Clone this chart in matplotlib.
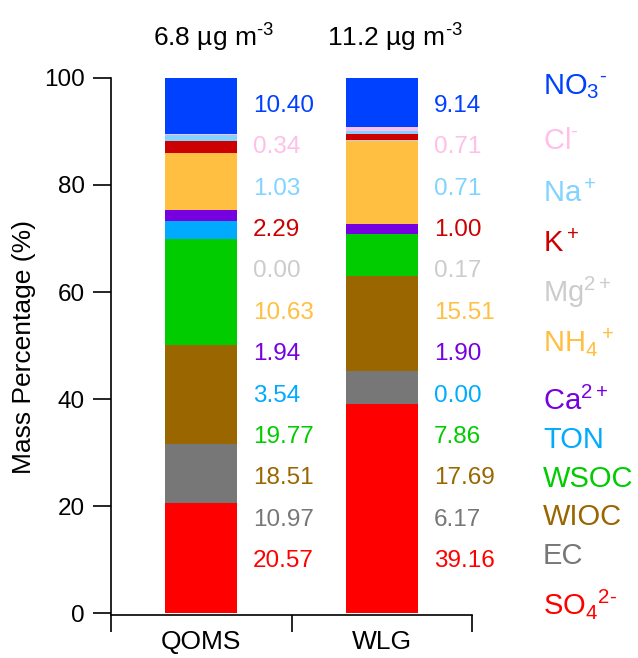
import matplotlib
matplotlib.use("Agg")
import matplotlib.pyplot as plt
import numpy as np

plt.rcParams["font.family"] = ["Liberation Sans", "DejaVu Sans"]
plt.rcParams["mathtext.fontset"] = "custom"
plt.rcParams["mathtext.rm"] = "Liberation Sans"
plt.rcParams["mathtext.it"] = "Liberation Sans"
plt.rcParams["mathtext.bf"] = "Liberation Sans:bold"

HY = "\u2010"  # short hyphen, as in the original superscripts

sites = ["QOMS", "WLG"]
totals = ["6.8 µg m$^{" + HY + "3}$", "11.2 µg m$^{" + HY + "3}$"]

# stacked bottom -> top
species = ["SO$_4{}^{2" + HY + "}$", "EC", "WIOC", "WSOC", "TON", "Ca$^{2+}$",
           "NH$_4{}^+$", "Mg$^{2+}$", "K$^+$", "Na$^+$", "Cl$^{" + HY + "}$",
           "NO$_3{}^{" + HY + "}$"]
qoms = [20.57, 10.97, 18.51, 19.77, 3.54, 1.94, 10.63, 0.00, 2.29, 1.03, 0.34, 10.40]
wlg = [39.16, 6.17, 17.69, 7.86, 0.00, 1.90, 15.51, 0.17, 1.00, 0.71, 0.71, 9.14]
colors = ["#ff0000", "#777777", "#996600", "#00cc00", "#00aaff", "#7700e0",
          "#ffbf40", "#cccccc", "#cc0000", "#80d4ff", "#ffbfe8", "#0040ff"]

fig = plt.figure(figsize=(6.38, 6.58), dpi=100)
ax = fig.add_axes([0.174, 0.0653, 0.566, 0.8162])

x = np.arange(len(sites))
bottom = np.zeros(len(sites))
for i, c in enumerate(colors):
    vals = np.array([qoms[i], wlg[i]])
    ax.bar(x, vals, 0.4, bottom=bottom, color=c, linewidth=0)
    bottom += vals

# value labels, top -> bottom in the same order as the legend
label_y = np.linspace(94.8, 9.7, len(species))
for j, vals in enumerate([qoms, wlg]):
    for k, i in enumerate(range(len(species) - 1, -1, -1)):
        ax.text(j + 0.287, label_y[k], f"{vals[i]:.2f}", color=colors[i],
                fontsize=17.5, ha="left", va="center")

# species names on the right (baselines in pixels from the top)
legend_y = [(613 - p) / 5.35 for p in [94, 149, 202, 252, 302, 352, 410, 448, 487, 525, 564, 614]]
for k, i in enumerate(range(len(species) - 1, -1, -1)):
    ax.text(1.893, legend_y[k], species[i], color=colors[i], fontsize=21,
            ha="left", va="baseline", clip_on=False)

for j, t in enumerate(totals):
    ax.text(j + 0.07, 105.8, t, fontsize=19, ha="center", va="baseline", clip_on=False)

ax.set_xlim(-0.5, 1.5)
ax.set_ylim(-0.37, 100)
ax.spines["top"].set_visible(False)
ax.spines["right"].set_visible(False)
ax.spines["left"].set_linewidth(1.2)
ax.spines["bottom"].set_linewidth(1.2)

ax.set_yticks(np.arange(0, 101, 20))
ax.tick_params(axis="y", direction="out", length=13, width=1.2, labelsize=17.5, pad=6)
ax.set_xticks([-0.5, 0.5, 1.5])
ax.set_xticklabels([])
ax.tick_params(axis="x", which="major", direction="out", length=12, width=1.2)
ax.set_xticks(x, minor=True)
ax.set_xticklabels(sites, minor=True)
ax.tick_params(axis="x", which="minor", length=0, labelsize=19, pad=11)
ax.set_ylabel("Mass Percentage (%)", fontsize=19, labelpad=6)

fig.savefig("out.png", dpi=100)
